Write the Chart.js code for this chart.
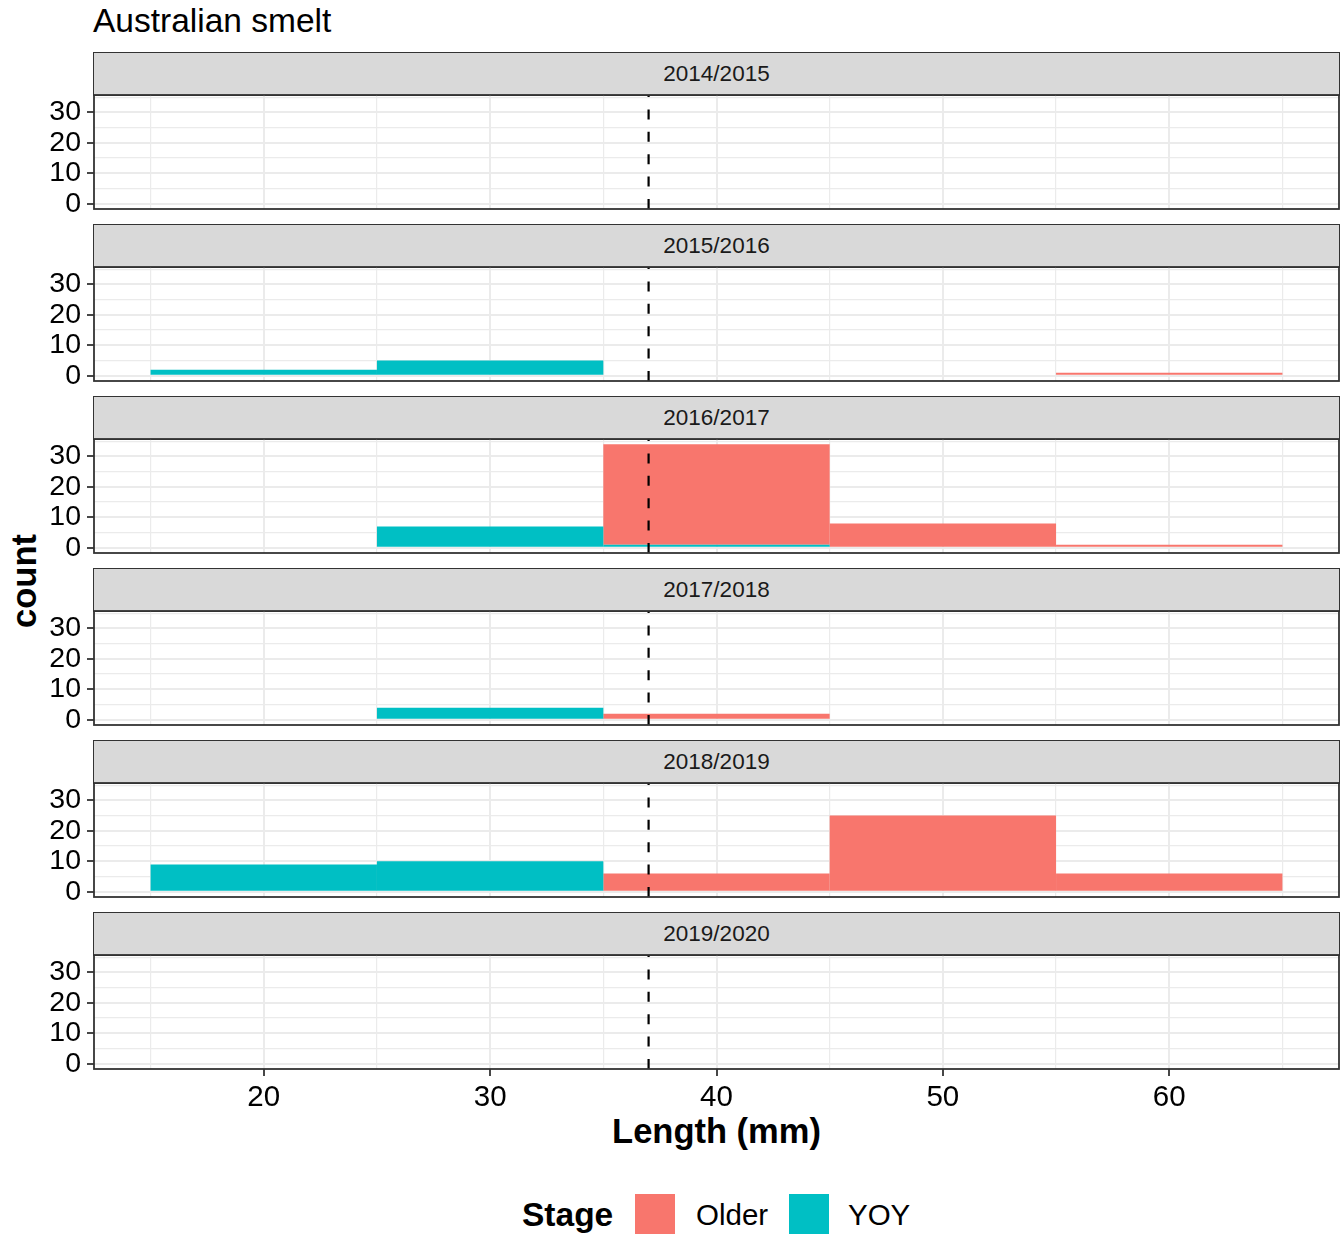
<!DOCTYPE html>
<html>
<head>
<meta charset="utf-8">
<script src="https://cdn.jsdelivr.net/npm/chart.js@4/dist/chart.umd.min.js"></script>
<style>
    body { margin:0; width:1344px; height:1234px; background:#fff; position:relative; overflow:hidden;
           font-family:"Liberation Sans", Arial, sans-serif; }
    .txt { position:absolute; line-height:1; white-space:nowrap; color:#000; }
    .strip { position:absolute; left:93px; width:1247px; height:44px; box-sizing:border-box;
             background:#d9d9d9; border:1.8px solid #333; display:flex; align-items:center;
             justify-content:center; font-size:22.5px; color:#1a1a1a; }
    .swatch { position:absolute; width:40px; height:40px; }
</style>
</head>
<body>
<div class="txt" style="left:93px;top:4px;font-size:33.5px">Australian smelt</div>
<div class="txt" style="left:716.5px;top:1114px;font-size:34.5px;font-weight:bold;transform:translateX(-50%)">Length (mm)</div>
<div class="txt" style="left:24px;top:581px;font-size:34.5px;font-weight:bold;transform:translate(-50%,-50%) rotate(-90deg)">count</div>

<div class="txt" style="left:522px;top:1198px;font-size:33.5px;font-weight:bold">Stage</div>
<div class="swatch" style="left:635px;top:1194px;background:#F8766D"></div>
<div class="txt" style="left:696px;top:1200px;font-size:29.5px">Older</div>
<div class="swatch" style="left:789px;top:1194px;background:#00BFC4"></div>
<div class="txt" style="left:848px;top:1200px;font-size:29.5px">YOY</div>

<script>
// facets (season) and 10 mm length bins (15-25, 25-35, ... 55-65), centred on binMids
const seasons = ['2014/2015', '2015/2016', '2016/2017', '2017/2018', '2018/2019', '2019/2020'];
const binMids = [20, 30, 40, 50, 60];

// counts per season, one row per facet, one value per bin
const yoyCounts = [
    [0, 0, 0, 0, 0],
    [2, 5, 0, 0, 0],
    [0, 7, 1, 0, 0],
    [0, 4, 0, 0, 0],
    [9, 10, 0, 0, 0],
    [0, 0, 0, 0, 0],
];
const olderCounts = [
    [0, 0, 0, 0, 0],
    [0, 0, 0, 0, 1],
    [0, 0, 33, 8, 1],
    [0, 0, 2, 0, 0],
    [0, 0, 6, 25, 6],
    [0, 0, 0, 0, 0],
];

const xTicks  = [20, 30, 40, 50, 60];
const xMinor  = [15, 25, 35, 45, 55, 65];
const yTicks  = [0, 10, 20, 30];
const yMinor  = [5, 15, 25, 35];
const cutoff  = 37;   // dashed reference line (mm)

const YOY_COL   = '#00BFC4';
const OLDER_COL = '#F8766D';

Chart.defaults.font.family = '"Liberation Sans", Arial, sans-serif';

const panelTop0 = 95, panelStep = 172, panelH = 114, pad = 30, xAxisH = 54;

// dashed cut-off line + panel border drawn on top of the bars
const panelDecor = {
    id: 'panelDecor',
    afterDatasetsDraw(chart) {
        const { ctx, chartArea: a, scales } = chart;
        const px = scales.x.getPixelForValue(cutoff);
        ctx.save();
        ctx.strokeStyle = '#000';
        ctx.lineWidth = 2.2;
        ctx.setLineDash([10, 12.4]);
        ctx.beginPath();
        ctx.moveTo(px, a.bottom);
        ctx.lineTo(px, a.top);
        ctx.stroke();
        ctx.setLineDash([]);
        ctx.strokeStyle = '#333';
        ctx.lineWidth = 1.8;
        ctx.strokeRect(a.left, a.top, a.right - a.left, a.bottom - a.top);
        ctx.restore();
    }
};

const isMajor = (list) => (c) => !!(c.tick && list.includes(c.tick.value));
// empty bins are left out so no zero-height sliver is drawn
const toBars = (counts) => binMids.map((m, j) => ({ x: m, y: counts[j] === 0 ? null : counts[j] }));

seasons.forEach((season, i) => {
    const top  = panelTop0 + panelStep * i;
    const last = i === seasons.length - 1;

    const strip = document.createElement('div');
    strip.className = 'strip';
    strip.style.top = (top - 43) + 'px';
    strip.textContent = season;
    document.body.appendChild(strip);

    const cv = document.createElement('canvas');
    cv.width  = 1344;
    cv.height = pad + panelH + (last ? xAxisH : pad);
    cv.style.cssText = `position:absolute;left:0;top:${top - pad}px`;
    document.body.appendChild(cv);

    const xMajor = isMajor(xTicks);
    const yMajor = isMajor(yTicks);

    new Chart(cv, {
        type: 'bar',
        data: {
            datasets: [
                { label: 'YOY',   data: toBars(yoyCounts[i]),   backgroundColor: YOY_COL },
                { label: 'Older', data: toBars(olderCounts[i]), backgroundColor: OLDER_COL },
            ].map(d => ({ ...d, xAxisID: 'xBins', barPercentage: 1, categoryPercentage: 1,
                          borderWidth: 0, inflateAmount: 0 })),
        },
        options: {
            responsive: false,
            animation: false,
            devicePixelRatio: 1,
            layout: { padding: { top: pad, bottom: last ? 0 : pad, left: 0, right: 5 } },
            plugins: { legend: { display: false }, tooltip: { enabled: false } },
            scales: {
                xBins: {
                    type: 'linear', display: false, min: 12.5, max: 67.5, stacked: true, offset: false,
                    afterBuildTicks: s => { s.ticks = binMids.map(v => ({ value: v })); },
                },
                x: {
                    type: 'linear', min: 12.5, max: 67.5, offset: false,
                    afterBuildTicks: s => { s.ticks = [...xTicks, ...xMinor].sort((a, b) => a - b).map(v => ({ value: v })); },
                    afterFit: s => { if (last) s.height = xAxisH; },
                    grid: {
                        offset: false, color: '#ebebeb',
                        lineWidth: c => xMajor(c) ? 2 : 1.2,
                        drawTicks: last, tickLength: 7, tickWidth: 1.8,
                        tickColor: c => xMajor(c) ? '#333' : 'rgba(0,0,0,0)',
                    },
                    border: { display: false },
                    ticks: {
                        display: last, autoSkip: false, maxRotation: 0, padding: 4, color: '#000',
                        font: { size: 29.5 },
                        callback: v => xTicks.includes(v) ? String(v) : '',
                    },
                },
                y: {
                    min: -1.7, max: 35.7, stacked: true,
                    afterBuildTicks: s => { s.ticks = [...yTicks, ...yMinor].sort((a, b) => a - b).map(v => ({ value: v })); },
                    afterFit: s => { s.width = 94; },
                    grid: {
                        color: '#ebebeb',
                        lineWidth: c => yMajor(c) ? 2 : 1.2,
                        tickLength: 7, tickWidth: 1.8,
                        tickColor: c => yMajor(c) ? '#333' : 'rgba(0,0,0,0)',
                    },
                    border: { display: false },
                    ticks: {
                        autoSkip: false, padding: 6, color: '#000',
                        font: { size: 28.5 },
                        callback: v => yTicks.includes(v) ? String(v) : '',
                    },
                },
            },
        },
        plugins: [panelDecor],
    });
});
</script>
</body>
</html>
